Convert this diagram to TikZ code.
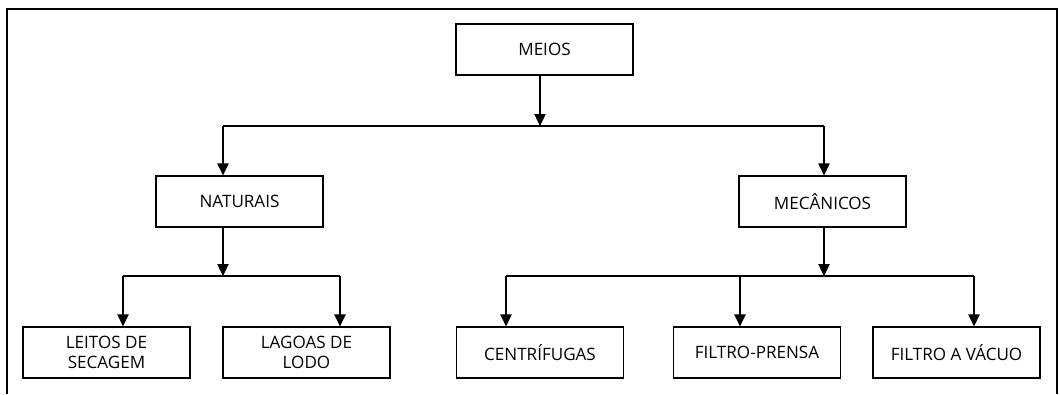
\documentclass[tikz,border=0pt]{standalone}
\usepackage{fontspec}
\setmainfont{Open Sans}
\usetikzlibrary{arrows.meta}
\begin{document}
\begin{tikzpicture}[x=0.75pt,y=-0.75pt,
  box/.style={draw,line width=0.9pt,minimum width=125.25pt,minimum height=38.25pt,
    inner sep=0pt,align=center,font=\fontsize{12.8}{14.5}\selectfont},
  link/.style={line width=0.9pt},
  arr/.style={link,-{Triangle[width=8.5pt,length=9pt]}}]
  \useasboundingbox (0,0) rectangle (1060,394);
  % outer frame, open at the bottom
  \draw[line width=1pt] (7,394) -- (7,9) -- (1057,9) -- (1057,394);

  % boxes
  \node[box,minimum width=132.75pt] (meios) at (544.5,49.5) {MEIOS};
  \node[box] (nat) at (239.5,201.5) {NATURAIS};
  \node[box] (mec) at (822.5,201.5) {MECÂNICOS};
  \node[box] (leitos) at (106.5,352.5) {LEITOS DE\\SECAGEM};
  \node[box] (lagoas) at (306.5,352.5) {LAGOAS DE\\LODO};
  \node[box] (centr) at (540,352.5) {CENTRÍFUGAS};
  \node[box] (fprensa) at (757,352.5) {FILTRO-PRENSA};
  \node[box] (fvacuo) at (956.5,352.5) {FILTRO A VÁCUO};

  % junction points of the distribution lines
  \coordinate (j1) at (540,126);
  \coordinate (j1L) at (223,126);
  \coordinate (j1R) at (824,126);
  \coordinate (j2) at (223,276);
  \coordinate (j2L) at (123,276);
  \coordinate (j2R) at (340,276);
  \coordinate (j3) at (824,276);
  \coordinate (j3A) at (506,276);
  \coordinate (j3B) at (740,276);
  \coordinate (j3C) at (974,276);

  % first level
  \draw[arr] (meios.south -| j1) -- (j1);
  \draw[link] (j1L) -- (j1R);
  \draw[arr] (j1L) -- (nat.north -| j1L);
  \draw[arr] (j1R) -- (mec.north -| j1R);

  % natural means
  \draw[arr] (nat.south -| j2) -- (j2);
  \draw[link] (j2L) -- (j2R);
  \draw[arr] (j2L) -- (leitos.north -| j2L);
  \draw[arr] (j2R) -- (lagoas.north -| j2R);

  % mechanical means
  \draw[arr] (mec.south -| j3) -- (j3);
  \draw[link] (j3A) -- (j3C);
  \draw[arr] (j3A) -- (centr.north -| j3A);
  \draw[arr] (j3B) -- (fprensa.north -| j3B);
  \draw[arr] (j3C) -- (fvacuo.north -| j3C);
\end{tikzpicture}
\end{document}
